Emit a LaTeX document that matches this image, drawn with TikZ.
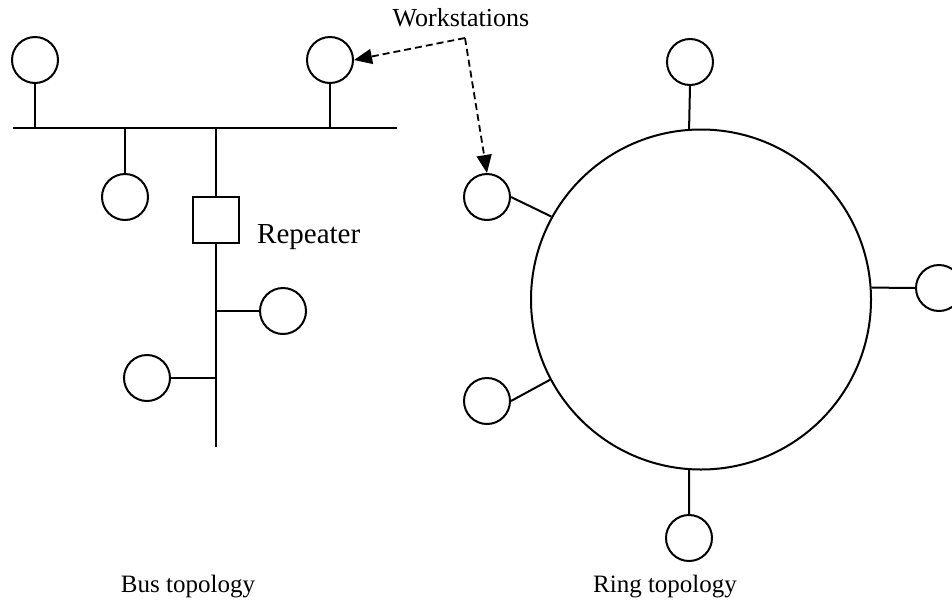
\documentclass[tikz,border=0pt]{standalone}
\usepackage{fontspec}
\setmainfont{Liberation Serif}
\usetikzlibrary{arrows.meta}
\begin{document}
\begin{tikzpicture}[x=1pt,y=-1pt,
  ws/.style={circle,draw,line width=2pt,minimum size=46pt,inner sep=0pt},
  wire/.style={line width=2pt},
  lbl/.style={font=\fontsize{25}{30}\selectfont,anchor=base,inner sep=0pt},
  dasharrow/.style={line width=1.8pt,dash pattern=on 7pt off 4pt,-{Triangle[length=18pt,width=15pt]}}]
\useasboundingbox (0,0) rectangle (952,603);
\clip (0,0) rectangle (952,603);
% ---------- Bus topology ----------
\coordinate (busL) at (13,128);
\coordinate (busR) at (397,128);
\draw[wire] (busL) -- (busR);
\node[ws] (b1) at (35,60) {};
\node[ws] (b2) at (330,60) {};
\node[ws] (b3) at (125,197) {};
\node[draw,line width=2pt,minimum size=46pt,inner sep=0pt] (rep) at (216,220) {};
\node[font=\fontsize{29}{34}\selectfont,anchor=base west,inner sep=0pt] (replbl) at (257,243) {Repeater};
\node[ws] (b4) at (283,311) {};
\node[ws] (b5) at (147,378) {};
\coordinate (j1) at (35,128);
\coordinate (j2) at (330,128);
\coordinate (j3) at (125,128);
\coordinate (j4) at (216,128);
\coordinate (j5) at (216,311);
\coordinate (j6) at (216,378);
\coordinate (busEnd) at (216,447);
\draw[wire] (b1.south) -- (j1);
\draw[wire] (b2.south) -- (j2);
\draw[wire] (b3.north) -- (j3);
\draw[wire] (j4) -- (rep.north);
\draw[wire] (rep.south) -- (busEnd);
\draw[wire] (j5) -- (b4.west);
\draw[wire] (j6) -- (b5.east);
\node[lbl] (buslbl) at (188,592) {Bus topology};
% ---------- Ring topology ----------
\node[circle,draw,line width=2pt,minimum size=340pt,inner sep=0pt] (ring) at (701,299.5) {};
\node[ws] (r1) at (690,62) {};
\node[ws] (r2) at (939,288) {};
\node[ws] (r3) at (689,538) {};
\node[ws] (r4) at (487,197) {};
\node[ws] (r5) at (487,401) {};
\draw[wire] (r1.south) -- (ring.94);
\draw[wire] (r2.west) -- (ring.4);
\draw[wire] (r3.north) -- (ring.266);
\draw[wire] (r4.east) -- (ring.151.5);
\draw[wire] (r5.east) -- (ring.208.5);
\node[lbl] (ringlbl) at (665,592) {Ring topology};
% ---------- Workstations callout ----------
\node[font=\fontsize{26}{30}\selectfont,anchor=base,inner sep=0pt] (wslbl) at (461,26) {Workstations};
\coordinate (corner) at (465,38);
\draw[dasharrow] (corner) -- (b2.east);
\draw[dasharrow] (corner) -- (r4.north);
\end{tikzpicture}
\end{document}
